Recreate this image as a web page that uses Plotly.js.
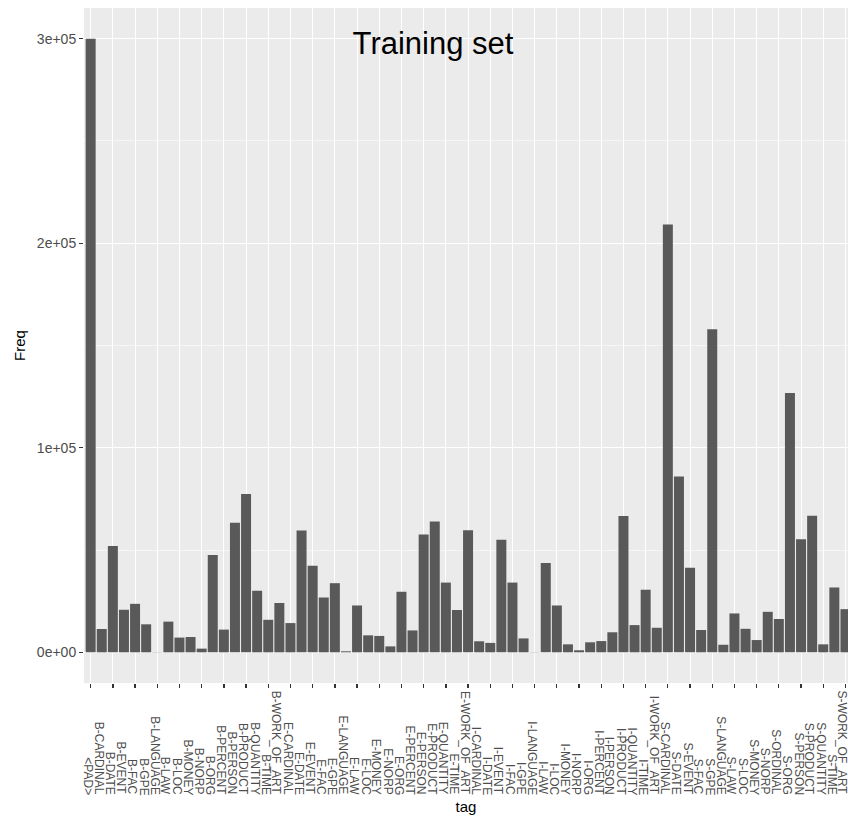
<!DOCTYPE html>
<html>
<head>
<meta charset="utf-8">
<script src="https://cdn.plot.ly/plotly-3.0.1.min.js"></script>
<style>html,body{margin:0;padding:0;background:#fff;}</style>
</head>
<body>
<div id="chart" style="width:848px;height:819px;"></div>
<script>
const categories = ["<PAD>",
  "B-CARDINAL","B-DATE","B-EVENT","B-FAC","B-GPE","B-LANGUAGE","B-LAW","B-LOC","B-MONEY","B-NORP","B-ORG","B-PERCENT","B-PERSON","B-PRODUCT","B-QUANTITY","B-TIME","B-WORK_OF_ART",
  "E-CARDINAL","E-DATE","E-EVENT","E-FAC","E-GPE","E-LANGUAGE","E-LAW","E-LOC","E-MONEY","E-NORP","E-ORG","E-PERCENT","E-PERSON","E-PRODUCT","E-QUANTITY","E-TIME","E-WORK_OF_ART",
  "I-CARDINAL","I-DATE","I-EVENT","I-FAC","I-GPE","I-LANGUAGE","I-LAW","I-LOC","I-MONEY","I-NORP","I-ORG","I-PERCENT","I-PERSON","I-PRODUCT","I-QUANTITY","I-TIME","I-WORK_OF_ART",
  "S-CARDINAL","S-DATE","S-EVENT","S-FAC","S-GPE","S-LANGUAGE","S-LAW","S-LOC","S-MONEY","S-NORP","S-ORDINAL","S-ORG","S-PERSON","S-PRODUCT","S-QUANTITY","S-TIME","S-WORK_OF_ART"];

const freq = [300000,
  11400,52000,20800,23700,13700,100,15000,7200,7500,1800,47600,11100,63400,77400,30100,15900,24100,
  14300,59500,42300,26800,33800,500,22900,8300,8000,2900,29600,10700,57600,63900,34100,20700,59700,
  5400,4600,55000,34100,6800,100,43700,22900,3900,1000,4900,5500,9800,66700,13300,30600,12000,
  209100,86000,41300,10900,157900,3700,19000,11500,6000,19800,16300,126800,55300,66800,3900,31700,21100];

const yTickVals = [0, 100000, 200000, 300000];
const yTickText = ["0e+00", "1e+05", "2e+05", "3e+05"];

const chartTitle = "Training set";
const xTitle = "tag";
const yTitle = "Freq";

const FONT = "Liberation Sans, Arial, Helvetica, sans-serif";
const TICKGRAY = "#4D4D4D";

const labelAnnotations = categories.map((c, i) => ({
  x: i, xref: "x",
  y: -0.1674, yref: "paper",
  text: c.replace(/</g, "&lt;").replace(/>/g, "&gt;"),
  textangle: 90,
  showarrow: false,
  xanchor: "center", yanchor: "bottom",
  xshift: -3,
  borderpad: 0,
  font: {family: FONT, size: 12, color: TICKGRAY}
}));

const trace = {
  type: "bar",
  x: categories,
  y: freq,
  marker: {color: "#595959", line: {width: 0}},
  hoverinfo: "x+y"
};

const layout = {
  width: 848, height: 819,
  margin: {l: 84, r: 0, t: 8, b: 136, pad: 0},
  paper_bgcolor: "#ffffff",
  plot_bgcolor: "#EBEBEB",
  bargap: 0.1,
  showlegend: false,
  font: {family: FONT, color: "#000000"},
  title: {
    text: chartTitle,
    font: {family: FONT, size: 31, color: "#000000"},
    xref: "container", yref: "container",
    x: 433 / 848, xanchor: "center",
    y: 1 - 43 / 819, yanchor: "middle"
  },
  xaxis: {
    type: "category",
    range: [-0.6, 68.23],
    showticklabels: false,
    ticks: "outside", ticklen: 4, tickwidth: 1.3, tickcolor: "#333333",
    showgrid: true, gridcolor: "#FFFFFF", gridwidth: 1,
    zeroline: false, showline: false,
    fixedrange: true,
    automargin: false,
    title: {text: xTitle, font: {family: FONT, size: 15, color: "#000000"}, standoff: 114}
  },
  yaxis: {
    range: [-15000, 315000],
    tickmode: "array", tickvals: yTickVals, ticktext: yTickText,
    tickfont: {family: FONT, size: 14, color: TICKGRAY},
    ticks: "outside", ticklen: 4, tickwidth: 1.3, tickcolor: "#333333",
    showgrid: true, gridcolor: "#FFFFFF", gridwidth: 1.1,
    minor: {tickmode: "array", tickvals: [50000, 150000, 250000], showgrid: true, gridcolor: "#FFFFFF", gridwidth: 0.55, ticks: ""},
    zeroline: false, showline: false,
    fixedrange: true,
    automargin: false,
    title: {text: yTitle, font: {family: FONT, size: 15, color: "#000000"}, standoff: 7}
  },
  annotations: labelAnnotations
};

Plotly.newPlot("chart", [trace], layout, {displayModeBar: false, staticPlot: true});
</script>
</body>
</html>
